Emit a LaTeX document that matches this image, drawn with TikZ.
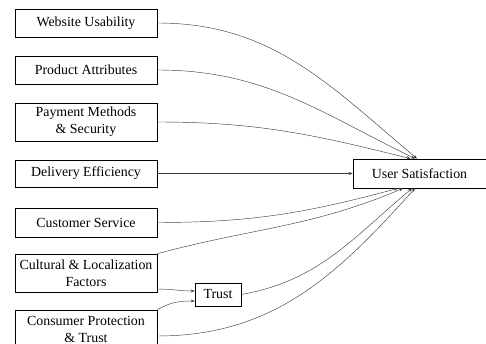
\documentclass[tikz,border=0pt]{standalone}
\usepackage{fontspec}
\setmainfont{Liberation Serif}
\usepackage{tikz}
\usetikzlibrary{arrows.meta, positioning, calc}

\begin{document}
\begin{tikzpicture}[x=1pt, y=1pt,
    factor/.style={draw, rectangle, line width=0.7pt, minimum width=142pt, minimum height=28pt, inner sep=0pt, align=center, font=\fontsize{13.9}{17}\selectfont},
    tall/.style={minimum height=38pt},
    link/.style={-{Stealth[length=4pt, width=3pt]}, line width=0.45pt, draw=black!75}]
    \useasboundingbox (0,0) rectangle (486,344);

    \node (web) [factor] at (86,321) {Website Usability};
    \node (prod) [factor] at (86,274) {Product Attributes};
    \node (pay) [factor, tall] at (86,222) {Payment Methods\\ \& Security};
    \node (deliv) [factor, minimum height=27pt] at (86,170.5) {Delivery Efficiency};
    \node (cust) [factor, minimum height=29pt] at (86,121.5) {Customer Service};
    \node (cult) [factor, tall] at (86,71) {Cultural \& Localization\\ Factors};
    \node (cons) [factor, tall] at (86,15) {Consumer Protection\\ \& Trust};

    \node (trust) [factor, minimum width=46pt, minimum height=23pt] at (218,49.5) {Trust};
    \node (sat) [factor, minimum width=133pt, minimum height=29pt] at (419.5,170.5) {User Satisfaction};

    \draw [link] (web.east) to[out=0, in=140] ([xshift=-2.5pt]sat.north);
    \draw [link] (prod.east) to[out=0, in=154] ([xshift=-4.5pt]sat.north);
    \draw [link] (pay.east) to[out=0, in=166] ([xshift=-9pt]sat.north);
    \draw [link] (deliv.east) -- (sat.west);
    \draw [link] (cust.east) to[out=0, in=195] ([xshift=-21.5pt]sat.south);
    \draw [link] (cult.north east) to[out=15, in=203] ([xshift=-16.5pt]sat.south);
    \draw [link] ([yshift=-16pt]cult.east) to[out=0, in=180] ([yshift=3.5pt]trust.west);
    \draw [link] (cons.north east) to[out=30, in=180] ([yshift=-6.5pt]trust.west);
    \draw [link] (trust.east) to[out=10, in=220] ([xshift=-7.5pt]sat.south);
    \draw [link] ([yshift=-7pt]cons.east) to[out=0, in=228] ([xshift=-4.5pt]sat.south);
\end{tikzpicture}
\end{document}
